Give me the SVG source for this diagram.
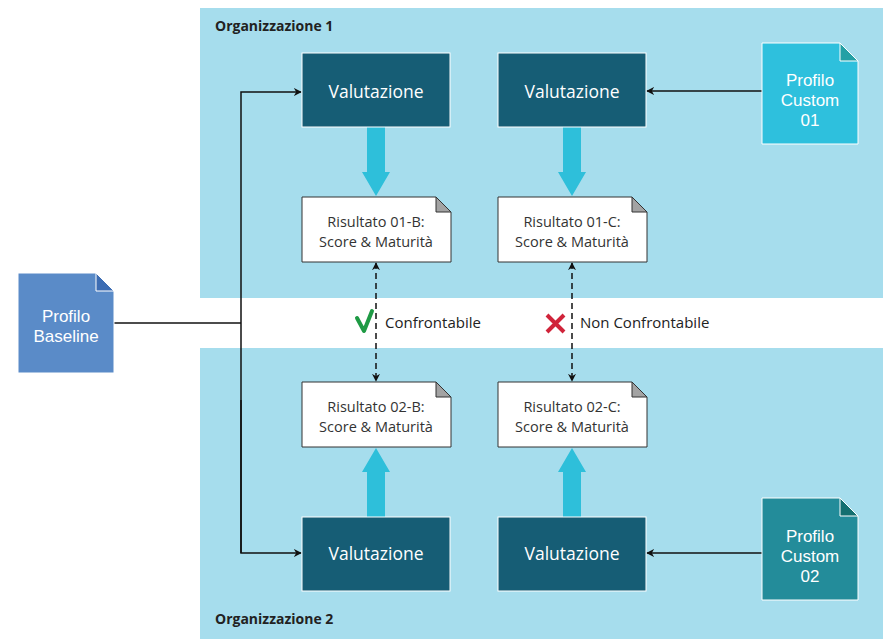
<svg xmlns="http://www.w3.org/2000/svg" width="883" height="639" viewBox="0 0 883 639">
<defs>
<style>
.panel{fill:#a6dded}
.val rect{fill:#165d75;stroke:#ffffff;stroke-width:1}
.val text{fill:#ffffff;font-family:"Open Sans","Liberation Sans",sans-serif;font-size:17.5px;text-anchor:middle}
.res path.body{fill:#ffffff;stroke:#333333;stroke-width:1}
.res path.fold{fill:#a3a3a3;stroke:#333333;stroke-width:1}
.res text{fill:#333333;font-family:"Open Sans","Liberation Sans",sans-serif;font-size:14.5px;text-anchor:middle}
.doc text{fill:#ffffff;font-family:"Liberation Sans",Arial,sans-serif;font-size:17px;text-anchor:middle}
.doc path.body{stroke:#ffffff;stroke-width:1}
.org{fill:#222222;font-family:"Open Sans","Liberation Sans",sans-serif;font-size:14px;font-weight:bold}
.line{fill:none;stroke:#111111;stroke-width:1.5}
.dash{fill:none;stroke:#111111;stroke-width:1.5;stroke-dasharray:6,4}
.big{fill:#2ebfda}
.lbl{fill:#222222;font-family:"Open Sans","Liberation Sans",sans-serif;font-size:15px}
</style>
<marker id="ah" viewBox="0 0 10 10" refX="9" refY="5" markerWidth="8" markerHeight="8" markerUnits="userSpaceOnUse" orient="auto-start-reverse">
<path d="M0,0 L10,5 L0,10 L3,5 Z" fill="#111111"/>
</marker>
</defs>
<rect width="883" height="639" fill="#ffffff"/>
<g id="org1">
<rect class="panel" x="200" y="8" width="683" height="290"/>
<text class="org" x="215" y="31">Organizzazione 1</text>
</g>
<g id="org2">
<rect class="panel" x="200" y="348" width="683" height="291"/>
<text class="org" x="215" y="624">Organizzazione 2</text>
</g>
<g id="connectors">
<path class="big" d="M367,127 H385 V172 H390 L376,196 L362,172 H367 Z"/>
<path class="big" d="M563,127 H581 V172 H586 L572,196 L558,172 H563 Z"/>
<path class="big" d="M367,517 H385 V472 H390 L376,448 L362,472 H367 Z"/>
<path class="big" d="M563,517 H581 V472 H586 L572,448 L558,472 H563 Z"/>
<path class="line" d="M114,323 H241"/>
<path class="line" d="M241,553 V92 H301" marker-end="url(#ah)"/>
<path class="line" d="M241,400 V553 H301" marker-end="url(#ah)"/>
<path class="line" d="M762,91 H647" marker-end="url(#ah)"/>
<path class="line" d="M762,553 H647" marker-end="url(#ah)"/>
<path class="dash" d="M376,263 V381" marker-start="url(#ah)" marker-end="url(#ah)"/>
<path class="dash" d="M572,263 V381" marker-start="url(#ah)" marker-end="url(#ah)"/>
</g>
<g id="confrontabile">
<path d="M357,318 L364,331 L372,311" fill="none" stroke="#1e9a44" stroke-width="4" stroke-linecap="round" stroke-linejoin="round"/>
<text class="lbl" x="385" y="328">Confrontabile</text>
</g>
<g id="non-confrontabile">
<path d="M547,315 L564,332 M564,315 L547,332" fill="none" stroke="#d0243a" stroke-width="4"/>
<text class="lbl" x="580" y="328">Non Confrontabile</text>
</g>
<g id="val1b" class="val"><rect x="302" y="53" width="148" height="74"/><text x="376" y="98">Valutazione</text></g>
<g id="val1c" class="val"><rect x="498" y="53" width="148" height="74"/><text x="572" y="98">Valutazione</text></g>
<g id="val2b" class="val"><rect x="302" y="517" width="148" height="74"/><text x="376" y="560">Valutazione</text></g>
<g id="val2c" class="val"><rect x="498" y="517" width="148" height="74"/><text x="572" y="560">Valutazione</text></g>
<g id="res1b" class="res">
<path class="body" d="M302,197 H436 L451,212 V262 H302 Z"/><path class="fold" d="M436,197 L451,212 H436 Z"/>
<text x="376" y="227">Risultato 01-B:</text><text x="376" y="247">Score &amp; Maturità</text>
</g>
<g id="res1c" class="res">
<path class="body" d="M498,197 H632 L647,212 V262 H498 Z"/><path class="fold" d="M632,197 L647,212 H632 Z"/>
<text x="572" y="227">Risultato 01-C:</text><text x="572" y="247">Score &amp; Maturità</text>
</g>
<g id="res2b" class="res">
<path class="body" d="M302,382 H436 L451,397 V447 H302 Z"/><path class="fold" d="M436,382 L451,397 H436 Z"/>
<text x="376" y="412">Risultato 02-B:</text><text x="376" y="432">Score &amp; Maturità</text>
</g>
<g id="res2c" class="res">
<path class="body" d="M498,382 H632 L647,397 V447 H498 Z"/><path class="fold" d="M632,382 L647,397 H632 Z"/>
<text x="572" y="412">Risultato 02-C:</text><text x="572" y="432">Score &amp; Maturità</text>
</g>
<g id="baseline" class="doc">
<path class="body" d="M18,273 H96 L114,291 V373 H18 Z" fill="#5a8bc8"/>
<path d="M96,273 L114,291 H96 Z" fill="#3d6db3" stroke="#ffffff" stroke-width="1"/>
<text x="66" y="322">Profilo</text><text x="66" y="342">Baseline</text>
</g>
<g id="custom01" class="doc">
<path class="body" d="M762,43 H840 L858,61 V144 H762 Z" fill="#2ec0dd"/>
<path d="M840,43 L858,61 H840 Z" fill="#24a0a5" stroke="#ffffff" stroke-width="1"/>
<text x="810" y="86">Profilo</text><text x="810" y="106">Custom</text><text x="810" y="126">01</text>
</g>
<g id="custom02" class="doc">
<path class="body" d="M762,498 H840 L858,516 V600 H762 Z" fill="#238c9a"/>
<path d="M840,498 L858,516 H840 Z" fill="#146f70" stroke="#ffffff" stroke-width="1"/>
<text x="810" y="542">Profilo</text><text x="810" y="562">Custom</text><text x="810" y="582">02</text>
</g>
</svg>
